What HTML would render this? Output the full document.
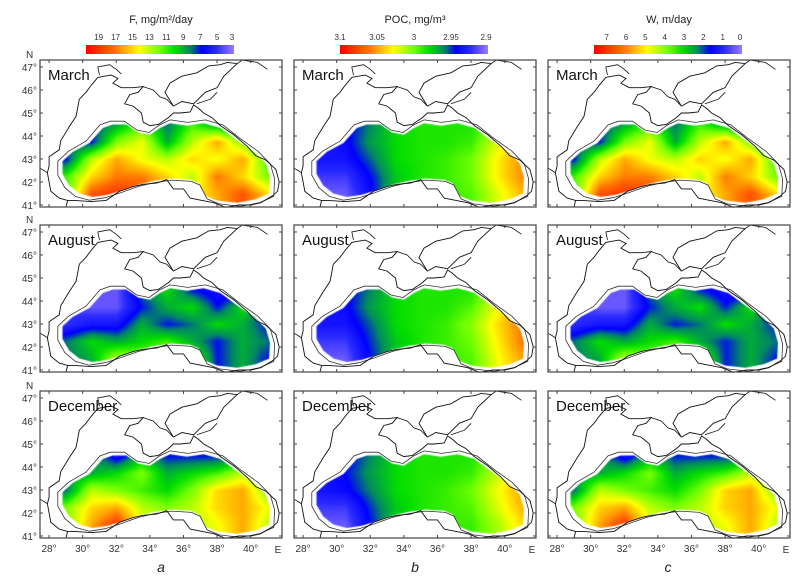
<!DOCTYPE html>
<html><head><meta charset="utf-8">
<style>
html,body{margin:0;padding:0;background:#fff;}
#wrap{position:relative;width:804px;height:583px;overflow:hidden;font-family:"Liberation Sans",sans-serif;}
#cv,#ov{position:absolute;left:0;top:0;}
</style></head>
<body>
<div id="wrap">
<canvas id="cv" width="804" height="583"></canvas>
<svg id="ov" width="804" height="583" xmlns="http://www.w3.org/2000/svg">
<defs>
<linearGradient id="cmap" x1="0" x2="1" y1="0" y2="0">
<stop offset="0" stop-color="#ff0000"/><stop offset="0.18" stop-color="#ff6a00"/>
<stop offset="0.36" stop-color="#ffff00"/><stop offset="0.5" stop-color="#70ff00"/>
<stop offset="0.6" stop-color="#00dd00"/><stop offset="0.7" stop-color="#008a60"/>
<stop offset="0.78" stop-color="#0000ff"/><stop offset="0.88" stop-color="#2a2aff"/>
<stop offset="1" stop-color="#9a7cff"/>
</linearGradient>
</defs>
<g id="g"></g>
</svg>
</div>
<script>
const gridLons=[29,30.5,32,33.5,35,36.5,38,39.5,41];
const gridLats=[41.5,42.25,43,43.75,44.5];
const months=["March","August","December"];
const fMarch=[[11,18,19,18,16,14,16,18,15],[11,15,17,17,15,13,17,15,12],[7,13,16,14,13,15,14,16,11],[8,7,12,14,9,13,16,12,9],[9,7,9,11,8,11,9,7,7]];
const fAugust=[[8,9,13,12,12,12,7,9,7],[8,10,9,10,11,9,7,9,8],[5,6,6,9,7,8,10,9,7],[5,4,4,7,9,10,7,10,6],[5,4,4,8,10,7,6,5,5]];
const fDecember=[[12,16,19,14,13,13,14,16,13],[12,15,16,13,12,13,15,16,14],[8,13,12,11,10,12,15,16,12],[9,9,10,12,9,10,11,13,10],[9,9,6,9,7,7,7,8,9]];
const pocMarch=[[2.91,2.91,2.94,2.975,2.985,2.99,2.995,3.02,3.045],[2.92,2.92,2.945,2.975,2.985,2.99,3.0,3.03,3.055],[2.935,2.935,2.955,2.98,2.985,2.99,3.0,3.03,3.055],[2.93,2.94,2.965,2.98,2.985,2.985,2.99,3.02,3.045],[2.93,2.94,2.96,2.98,2.985,2.985,2.985,3.0,3.025]];
const pocAugust=[[2.91,2.91,2.945,2.975,2.985,2.99,2.995,3.025,3.05],[2.92,2.92,2.95,2.975,2.985,2.99,3.0,3.03,3.06],[2.935,2.935,2.955,2.98,2.985,2.99,3.005,3.035,3.06],[2.93,2.94,2.965,2.98,2.985,2.985,2.995,3.025,3.05],[2.93,2.94,2.96,2.98,2.985,2.985,2.985,3.01,3.035]];
const pocDecember=[[2.91,2.91,2.945,2.975,2.985,2.99,2.99,3.01,3.035],[2.92,2.92,2.95,2.975,2.985,2.99,2.995,3.02,3.045],[2.935,2.94,2.96,2.98,2.985,2.99,3.0,3.025,3.05],[2.93,2.945,2.965,2.98,2.985,2.985,2.99,3.015,3.04],[2.93,2.94,2.96,2.98,2.985,2.985,2.985,3.0,3.025]];
const wMarch=[[3.5,6.6,7.0,6.6,5.7,4.8,5.7,6.6,5.3],[3.5,5.3,6.1,6.1,5.3,4.4,6.1,5.3,3.9],[1.8,4.4,5.7,4.8,4.4,5.3,4.8,5.7,3.5],[2.2,1.8,3.9,4.8,2.6,4.4,5.7,3.9,2.6],[2.6,1.8,2.6,3.5,2.2,3.5,2.6,1.8,1.8]];
const wAugust=[[2.2,2.6,4.4,3.9,3.9,3.9,1.8,2.6,1.8],[2.2,3.1,2.6,3.1,3.5,2.6,1.8,2.6,2.2],[0.9,1.3,1.3,2.6,1.8,2.2,3.1,2.6,1.8],[0.9,0.4,0.4,1.8,2.6,3.1,1.8,3.1,1.3],[0.9,0.4,0.4,2.2,3.1,1.8,1.3,0.9,0.9]];
const wDecember=[[3.9,5.7,7.0,4.8,4.4,4.4,4.8,5.7,4.4],[3.9,5.3,5.7,4.4,3.9,4.4,5.3,5.7,4.8],[2.2,4.4,3.9,3.5,3.1,3.9,5.3,5.7,3.9],[2.6,2.6,3.1,3.9,2.6,3.1,3.5,4.4,3.1],[2.6,2.6,1.3,2.6,1.8,1.8,1.8,2.2,2.6]];
const fTicks=[19,17,15,13,11,9,7,5,3];
const pocTicks=["3.1","3.05","3","2.95","2.9"];
const wTicks=[7,6,5,4,3,2,1,0];
const latTicks=[47,46,45,44,43,42,41];
const lonTicks=[28,30,32,34,36,38,40];

const cols=[
 {name:"a",title:"F, mg/m²/day",grids:[fMarch,fAugust,fDecember],vmax:20.5,vmin:3,ticks:fTicks,tv:fTicks},
 {name:"b",title:"POC, mg/m³",grids:[pocMarch,pocAugust,pocDecember],vmax:3.1,vmin:2.9,ticks:pocTicks,tv:[3.1,3.05,3,2.95,2.9]},
 {name:"c",title:"W, m/day",grids:[wMarch,wAugust,wDecember],vmax:7.66,vmin:0,ticks:wTicks,tv:wTicks}
];
const X0=[40,294,548], Y0=[60,225,391], PW=242, PH=147;
const LON0=27.46, PXD=16.8, PYD=23;
function lx(c,lon){return X0[c]+(lon-LON0)*PXD;}
function ly(r,lat){return Y0[r]+7+(47-lat)*PYD;}

const coast=[[29.0,40.9],[29.1,41.2],[28.6,41.3],[28.1,41.6],[28.0,42.0],[27.9,42.4],[28.0,42.7],[28.0,43.1],[28.6,43.4],[28.7,43.8],[29.2,44.4],[29.6,44.85],[29.7,45.2],[29.8,45.6],[30.2,45.9],[30.5,46.2],[30.9,46.55],[31.3,46.6],[31.7,46.65],[32.1,46.5],[31.8,46.3],[32.3,46.1],[33.0,46.1],[33.6,46.15],[33.3,45.9],[32.8,45.8],[32.5,45.4],[33.0,45.3],[33.5,45.0],[33.6,44.6],[34.0,44.45],[34.5,44.5],[35.1,44.8],[35.4,45.0],[35.8,45.0],[36.4,45.05],[36.6,45.35],[36.9,45.2],[37.2,45.0],[37.7,44.8],[38.2,44.45],[39.0,44.05],[39.8,43.55],[40.3,43.15],[40.9,42.95],[41.5,42.55],[41.7,42.0],[41.6,41.6],[41.3,41.4],[40.6,41.1],[40.0,41.0],[39.3,41.0],[38.5,40.9],[37.8,41.1],[37.1,41.2],[36.4,41.3],[36.0,41.7],[35.4,41.7],[35.0,42.1],[34.4,41.95],[33.6,41.9],[33.0,41.8],[32.2,41.6],[31.4,41.2],[30.5,41.15],[29.5,41.2],[29.1,41.2]];
const azov=[[35.4,45.3],[35.9,45.5],[36.6,45.4],[37.3,45.9],[38.0,46.1],[38.4,46.6],[39.2,47.15],[38.6,47.2],[38.2,47.1],[37.5,47.05],[36.8,46.75],[35.9,46.6],[35.2,46.3],[34.9,45.9],[35.4,45.3]];
const extraLines=[
 [[27.46,42.6],[27.7,42.5],[27.9,42.4]],
 [[31.0,46.65],[30.9,47.0],[31.6,47.1],[32.0,46.9],[32.3,46.7]],
 [[33.6,46.15],[34.2,46.0],[34.6,45.7],[35.0,45.6],[35.4,45.3]],
 [[36.8,45.4],[37.6,45.6],[38.0,45.9]],
 [[39.2,47.15],[39.5,47.3],[40.4,47.2],[41.0,46.9]]
];
const dataPoly=[[28.8,42.9],[29.4,43.3],[30.4,43.7],[31.2,44.35],[31.8,44.5],[32.6,44.5],[33.3,44.15],[34.0,44.05],[34.6,44.35],[35.2,44.55],[36.2,44.45],[37.2,44.55],[38.2,44.35],[39.2,43.8],[40.2,43.3],[40.9,42.8],[41.15,42.2],[41.1,41.5],[40.3,41.25],[39.2,41.1],[38.0,41.2],[37.3,41.4],[36.9,41.95],[36.4,42.1],[35.3,42.15],[34.3,42.05],[33.4,41.9],[32.4,41.65],[31.5,41.45],[30.6,41.35],[29.8,41.5],[29.2,41.85],[28.8,42.35]];
const isoPoly=dataPoly.map(p=>[35+(p[0]-35)*1.045,42.9+(p[1]-42.9)*1.09]);

const stops=[[0,[255,0,0]],[0.18,[255,106,0]],[0.36,[255,255,0]],[0.5,[112,255,0]],[0.6,[0,221,0]],[0.7,[0,138,96]],[0.78,[0,0,255]],[0.88,[42,42,255]],[1,[154,124,255]]];
function cmap(t){t=Math.max(0,Math.min(1,t));for(let i=1;i<stops.length;i++){if(t<=stops[i][0]){const a=stops[i-1],b=stops[i],f=(t-a[0])/(b[0]-a[0]);return [0,1,2].map(k=>Math.round(a[1][k]+(b[1][k]-a[1][k])*f));}}return stops[stops.length-1][1];}
function interp(grid,lon,lat){
 function idx(arr,v){let i=0;while(i<arr.length-2&&v>arr[i+1])i++;let f=(v-arr[i])/(arr[i+1]-arr[i]);f=Math.max(0,Math.min(1,f));return [i,f];}
 const [i,s]=idx(gridLons,lon),[j,u]=idx(gridLats,lat);
 const a=grid[j][i],b=grid[j][i+1],c=grid[j+1][i],d=grid[j+1][i+1];
 return (a*(1-s)+b*s)*(1-u)+(c*(1-s)+d*s)*u;
}
const cv=document.getElementById('cv'),ctx=cv.getContext('2d');
cols.forEach((col,c)=>{col.grids.forEach((grid,r)=>{
 const off=document.createElement('canvas');off.width=PW;off.height=PH;
 const oc=off.getContext('2d'),im=oc.createImageData(PW,PH);
 for(let y=0;y<PH;y++)for(let x=0;x<PW;x++){
  const lon=LON0+x/PXD, lat=47-(y-7)/PYD;
  const v=interp(grid,lon,lat), t=(col.vmax-v)/(col.vmax-col.vmin), cc=cmap(t), k=(y*PW+x)*4;
  im.data[k]=cc[0];im.data[k+1]=cc[1];im.data[k+2]=cc[2];im.data[k+3]=255;}
 oc.putImageData(im,0,0);
 ctx.save();ctx.beginPath();
 dataPoly.forEach((p,i)=>{const X=lx(c,p[0]),Y=ly(r,p[1]);i?ctx.lineTo(X,Y):ctx.moveTo(X,Y);});
 ctx.closePath();ctx.clip();ctx.drawImage(off,X0[c],Y0[r]);ctx.restore();
});});

const NS="http://www.w3.org/2000/svg",g=document.getElementById('g');
function el(tag,attrs,txt){const e=document.createElementNS(NS,tag);for(const k in attrs)e.setAttribute(k,attrs[k]);if(txt!==undefined)e.textContent=txt;g.appendChild(e);return e;}
function pathOf(c,r,pts,close){return pts.map((p,i)=>(i?'L':'M')+lx(c,p[0]).toFixed(1)+' '+ly(r,p[1]).toFixed(1)).join(' ')+(close?' Z':'');}

cols.forEach((col,c)=>{
 const cx=X0[c]+PW/2;
 const t=el('text',{x:cx,y:23,'text-anchor':'middle','font-size':'11',fill:'#222'},col.title);
 
 const bx=X0[c]+46,bw=148;
 const bar=el('rect',{x:bx,y:45,width:bw,height:9,fill:'url(#cmap)'});
 
 col.tv.forEach((v,i)=>{
  const tx=bx+bw*(col.vmax-v)/(col.vmax-col.vmin);
  const lt=el('text',{x:Math.min(tx,bx+bw-2),y:40,'text-anchor':'middle','font-size':'8',fill:'#333'},String(col.ticks[i]));
  
 });
 const lt=el('text',{x:[161,415,668][c],y:572,'text-anchor':'middle','font-size':'14','font-style':'italic',fill:'#222'},col.name);
 
 for(let r=0;r<3;r++){
  const iso=el('path',{d:pathOf(c,r,isoPoly,true),fill:'none',stroke:'#333','stroke-width':'0.8'});
  
  const cl=el('path',{d:pathOf(c,r,coast,false),fill:'none',stroke:'#111','stroke-width':'0.9'});
  
  const az=el('path',{d:pathOf(c,r,azov,false),fill:'none',stroke:'#111','stroke-width':'0.9'});
  
  extraLines.forEach(L=>{const e=el('path',{d:pathOf(c,r,L,false),fill:'none',stroke:'#111','stroke-width':'0.8'});
   });
  const fr=el('rect',{x:X0[c],y:Y0[r],width:PW,height:PH,fill:'none',stroke:'#444','stroke-width':'1.2'});
  
  lonTicks.forEach(lo=>{const X=lx(c,lo);
   const a=el('line',{x1:X,x2:X,y1:Y0[r],y2:Y0[r]+3,stroke:'#444'});
   const b=el('line',{x1:X,x2:X,y1:Y0[r]+PH,y2:Y0[r]+PH-3,stroke:'#444'});
   if(r===2){const tl=el('text',{x:X,y:552,'text-anchor':'middle','font-size':'10',fill:'#333'},lo+'°');}
  });
  if(r===2){const e=el('text',{x:X0[c]+PW-4,y:553,'text-anchor':'middle','font-size':'10',fill:'#333'},'E');}
  latTicks.forEach(la=>{const Y=ly(r,la);
   const a=el('line',{x1:X0[c],x2:X0[c]+3,y1:Y,y2:Y,stroke:'#444'});
   const b=el('line',{x1:X0[c]+PW,x2:X0[c]+PW-3,y1:Y,y2:Y,stroke:'#444'});
   if(c===0){const tl=el('text',{x:37,y:Y+4,'text-anchor':'end','font-size':'10',fill:'#333'},la+'°');}
  });
  if(c===0){const n=el('text',{x:26,y:Y0[r]-2,'font-size':'10',fill:'#333'},'N');}
  const m=el('text',{x:X0[c]+8,y:Y0[r]+20,'font-size':'15',fill:'#111'},months[r]);
  
 }
});
</script>
</body></html>
